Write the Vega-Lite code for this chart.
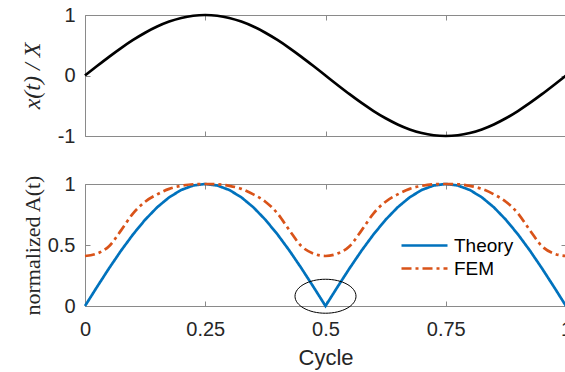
{
  "$schema": "https://vega.github.io/schema/vega-lite/v6.json",
  "background": "white",
  "padding": {"left": 20, "top": 5, "right": 0, "bottom": 5},
  "spacing": 48,
  "bounds": "flush",
  "config": {
    "view": {"stroke": null},
    "axis": {
      "grid": false,
      "domainColor": "#8a8a8a",
      "domainWidth": 1,
      "tickColor": "#8a8a8a",
      "tickWidth": 1,
      "tickSize": -5,
      "labelFont": "Liberation Sans",
      "labelFontSize": 20,
      "labelColor": "#262626",
      "labelFlush": false,
      "labelOverlap": false,
      "titleColor": "#262626",
      "titleFontWeight": "normal"
    },
    "legend": {
      "orient": "none",
      "legendX": 328,
      "legendY": 219,
      "title": null,
      "padding": 0,
      "symbolType": "M -2.3 0 H 2.3",
      "symbolSize": 400,
      "symbolStrokeWidth": 2.7,
      "labelFont": "Liberation Sans",
      "labelFontSize": 19,
      "labelColor": "black",
      "labelOffset": 18,
      "rowPadding": 1
    }
  },
  "datasets": {
    "motion": [
      {"cycle": 0, "x": 0}, {"cycle": 0.025, "x": 0.1564}, {"cycle": 0.05, "x": 0.309}, {"cycle": 0.075, "x": 0.454},
      {"cycle": 0.1, "x": 0.5878}, {"cycle": 0.125, "x": 0.7071}, {"cycle": 0.15, "x": 0.809}, {"cycle": 0.175, "x": 0.891},
      {"cycle": 0.2, "x": 0.9511}, {"cycle": 0.225, "x": 0.9877}, {"cycle": 0.25, "x": 1}, {"cycle": 0.275, "x": 0.9877},
      {"cycle": 0.3, "x": 0.9511}, {"cycle": 0.325, "x": 0.891}, {"cycle": 0.35, "x": 0.809}, {"cycle": 0.375, "x": 0.7071},
      {"cycle": 0.4, "x": 0.5878}, {"cycle": 0.425, "x": 0.454}, {"cycle": 0.45, "x": 0.309}, {"cycle": 0.475, "x": 0.1564},
      {"cycle": 0.5, "x": 0}, {"cycle": 0.525, "x": -0.1564}, {"cycle": 0.55, "x": -0.309}, {"cycle": 0.575, "x": -0.454},
      {"cycle": 0.6, "x": -0.5878}, {"cycle": 0.625, "x": -0.7071}, {"cycle": 0.65, "x": -0.809}, {"cycle": 0.675, "x": -0.891},
      {"cycle": 0.7, "x": -0.9511}, {"cycle": 0.725, "x": -0.9877}, {"cycle": 0.75, "x": -1}, {"cycle": 0.775, "x": -0.9877},
      {"cycle": 0.8, "x": -0.9511}, {"cycle": 0.825, "x": -0.891}, {"cycle": 0.85, "x": -0.809}, {"cycle": 0.875, "x": -0.7071},
      {"cycle": 0.9, "x": -0.5878}, {"cycle": 0.925, "x": -0.454}, {"cycle": 0.95, "x": -0.309}, {"cycle": 0.975, "x": -0.1564},
      {"cycle": 1, "x": 0}
    ],
    "amplitude": [
      {"cycle": 0, "Theory": 0, "FEM": 0.41}, {"cycle": 0.025, "Theory": 0.1564, "FEM": 0.43},
      {"cycle": 0.05, "Theory": 0.309, "FEM": 0.49}, {"cycle": 0.075, "Theory": 0.454, "FEM": 0.62},
      {"cycle": 0.1, "Theory": 0.5878, "FEM": 0.76}, {"cycle": 0.125, "Theory": 0.7071, "FEM": 0.855},
      {"cycle": 0.15, "Theory": 0.809, "FEM": 0.915}, {"cycle": 0.175, "Theory": 0.891, "FEM": 0.96},
      {"cycle": 0.2, "Theory": 0.9511, "FEM": 0.985}, {"cycle": 0.225, "Theory": 0.9877, "FEM": 0.998},
      {"cycle": 0.25, "Theory": 1, "FEM": 1}, {"cycle": 0.275, "Theory": 0.9877, "FEM": 0.998},
      {"cycle": 0.3, "Theory": 0.9511, "FEM": 0.985}, {"cycle": 0.325, "Theory": 0.891, "FEM": 0.96},
      {"cycle": 0.35, "Theory": 0.809, "FEM": 0.915}, {"cycle": 0.375, "Theory": 0.7071, "FEM": 0.855},
      {"cycle": 0.4, "Theory": 0.5878, "FEM": 0.76}, {"cycle": 0.425, "Theory": 0.454, "FEM": 0.62},
      {"cycle": 0.45, "Theory": 0.309, "FEM": 0.49}, {"cycle": 0.475, "Theory": 0.1564, "FEM": 0.43},
      {"cycle": 0.5, "Theory": 0, "FEM": 0.41}, {"cycle": 0.525, "Theory": 0.1564, "FEM": 0.43},
      {"cycle": 0.55, "Theory": 0.309, "FEM": 0.49}, {"cycle": 0.575, "Theory": 0.454, "FEM": 0.62},
      {"cycle": 0.6, "Theory": 0.5878, "FEM": 0.76}, {"cycle": 0.625, "Theory": 0.7071, "FEM": 0.855},
      {"cycle": 0.65, "Theory": 0.809, "FEM": 0.915}, {"cycle": 0.675, "Theory": 0.891, "FEM": 0.96},
      {"cycle": 0.7, "Theory": 0.9511, "FEM": 0.985}, {"cycle": 0.725, "Theory": 0.9877, "FEM": 0.998},
      {"cycle": 0.75, "Theory": 1, "FEM": 1}, {"cycle": 0.775, "Theory": 0.9877, "FEM": 0.998},
      {"cycle": 0.8, "Theory": 0.9511, "FEM": 0.985}, {"cycle": 0.825, "Theory": 0.891, "FEM": 0.96},
      {"cycle": 0.85, "Theory": 0.809, "FEM": 0.915}, {"cycle": 0.875, "Theory": 0.7071, "FEM": 0.855},
      {"cycle": 0.9, "Theory": 0.5878, "FEM": 0.76}, {"cycle": 0.925, "Theory": 0.454, "FEM": 0.62},
      {"cycle": 0.95, "Theory": 0.309, "FEM": 0.49}, {"cycle": 0.975, "Theory": 0.1564, "FEM": 0.43},
      {"cycle": 1, "Theory": 0, "FEM": 0.41}
    ]
  },
  "vconcat": [
    {
      "width": 481,
      "height": 121,
      "data": {"name": "motion"},
      "layer": [
        {
          "mark": {"type": "line", "color": "black", "strokeWidth": 2.7, "interpolate": "monotone"},
          "encoding": {
            "x": {"field": "cycle", "type": "quantitative", "scale": {"domain": [0, 1], "nice": false},
                  "axis": {"orient": "bottom", "values": [0, 0.25, 0.5, 0.75, 1], "labels": false, "title": null}},
            "y": {"field": "x", "type": "quantitative", "scale": {"domain": [-1, 1], "nice": false},
                  "axis": {"orient": "left", "values": [-1, 0, 1], "labelExpr": "'' + datum.value", "labelPadding": 15,
                           "minExtent": 40, "maxExtent": 40, "title": "x(t) / X", "titleFont": "Liberation Serif",
                           "titleFontStyle": "italic", "titleFontSize": 24, "titlePadding": 1}}
          }
        },
        {
          "mark": {"type": "line", "opacity": 0},
          "encoding": {
            "x": {"field": "cycle", "type": "quantitative", "scale": {"domain": [0, 1], "nice": false},
                  "axis": {"orient": "top", "values": [0, 0.25, 0.5, 0.75, 1], "labels": false, "title": null}},
            "y": {"field": "x", "type": "quantitative", "scale": {"domain": [-1, 1], "nice": false},
                  "axis": {"orient": "right", "values": [-1, 0, 1], "labels": false, "title": null}}
          }
        }
      ],
      "resolve": {"axis": {"x": "independent", "y": "independent"}}
    },
    {
      "width": 481,
      "height": 122,
      "layer": [
        {
          "data": {"name": "amplitude"},
          "transform": [{"fold": ["Theory", "FEM"], "as": ["series", "A"]}, {"filter": "datum.series === 'Theory'"}],
          "mark": {"type": "line", "strokeWidth": 2.7},
          "encoding": {
            "x": {"field": "cycle", "type": "quantitative", "scale": {"domain": [0, 1], "nice": false},
                  "axis": {"orient": "bottom", "values": [0, 0.25, 0.5, 0.75, 1], "labelExpr": "'' + datum.value",
                           "labelPadding": 18, "title": "Cycle", "titleFont": "Liberation Sans", "titleFontSize": 22, "titlePadding": 8}},
            "y": {"field": "A", "type": "quantitative", "scale": {"domain": [0, 1], "nice": false},
                  "axis": {"orient": "left", "values": [0, 0.5, 1], "labelExpr": "'' + datum.value", "labelPadding": 15,
                           "minExtent": 40, "maxExtent": 40, "title": "normalized A(t)", "titleFont": "Liberation Serif",
                           "titleFontSize": 22, "titlePadding": 1}},
            "color": {"field": "series", "type": "nominal",
                      "scale": {"domain": ["Theory", "FEM"], "range": ["#0072BD", "#D95319"]}},
            "strokeDash": {"field": "series", "type": "nominal",
                           "scale": {"domain": ["Theory", "FEM"], "range": [[1, 0], [10, 4, 3, 4]]}}
          }
        },
        {
          "data": {"name": "amplitude"},
          "transform": [{"fold": ["Theory", "FEM"], "as": ["series", "A"]}, {"filter": "datum.series === 'FEM'"}],
          "mark": {"type": "line", "strokeWidth": 2.7, "interpolate": "monotone"},
          "encoding": {
            "x": {"field": "cycle", "type": "quantitative", "scale": {"domain": [0, 1], "nice": false}, "axis": null},
            "y": {"field": "A", "type": "quantitative", "scale": {"domain": [0, 1], "nice": false}, "axis": null},
            "color": {"field": "series", "type": "nominal"},
            "strokeDash": {"field": "series", "type": "nominal"}
          }
        },
        {
          "data": {"name": "amplitude"},
          "mark": {"type": "line", "opacity": 0},
          "encoding": {
            "x": {"field": "cycle", "type": "quantitative", "scale": {"domain": [0, 1], "nice": false},
                  "axis": {"orient": "top", "values": [0, 0.25, 0.5, 0.75, 1], "labels": false, "title": null}},
            "y": {"field": "FEM", "type": "quantitative", "scale": {"domain": [0, 1], "nice": false},
                  "axis": {"orient": "right", "values": [0, 0.5, 1], "labels": false, "title": null}}
          }
        },
        {
          "data": {"values": [{"cycle": 0.5, "A": 0.08}]},
          "mark": {"type": "point", "shape": "M -1 0 A 1 0.557 0 1 1 1 0 A 1 0.557 0 1 1 -1 0 Z",
                   "size": 3721, "filled": false, "color": "black", "strokeWidth": 1, "opacity": 1},
          "encoding": {
            "x": {"field": "cycle", "type": "quantitative", "axis": null},
            "y": {"field": "A", "type": "quantitative", "axis": null}
          }
        }
      ],
      "resolve": {"axis": {"x": "independent", "y": "independent"}}
    }
  ]
}
